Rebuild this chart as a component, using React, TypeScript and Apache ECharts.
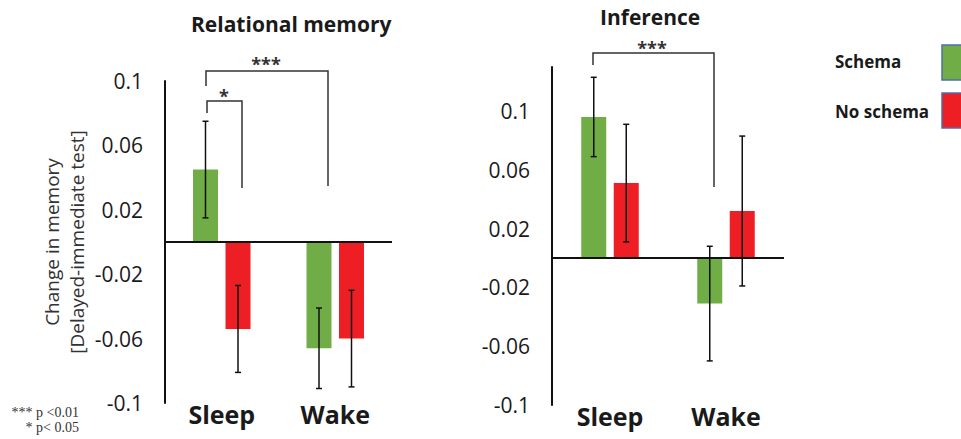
import React, { useEffect, useRef } from 'react';
import * as echarts from 'echarts';

const categories = ['Sleep', 'Wake'];
const yTickValues = [-0.1, -0.06, -0.02, 0.02, 0.06, 0.1];

const relationalSchema = [0.045, -0.066];
const relationalSchemaErr = [0.030, 0.025];
const relationalNoSchema = [-0.054, -0.060];
const relationalNoSchemaErr = [0.027, 0.030];

const inferenceSchema = [0.096, -0.031];
const inferenceSchemaErr = [0.027, 0.039];
const inferenceNoSchema = [0.051, 0.032];
const inferenceNoSchemaErr = [0.040, 0.051];

const legendNames = ['Schema', 'No schema'];

const GREEN = '#70AD47';
const RED = '#ED1F24';
const FONT = 'Open Sans';
const BAR_W = 25;
const BAR_GAP = 7.5;
const OFFSET = (BAR_W + BAR_GAP) / 2;

function errorSeries(values: number[], errs: number[], offset: number, idx: number) {
  return {
    type: 'custom',
    xAxisIndex: idx,
    yAxisIndex: idx,
    silent: true,
    clip: false,
    z: 5,
    data: values.map((v, i) => [i, v - errs[i], v + errs[i]]),
    renderItem: (params: any, api: any) => {
      const lo = api.coord([api.value(0), api.value(1)]);
      const hi = api.coord([api.value(0), api.value(2)]);
      const x = lo[0] + offset;
      const cap = 3;
      const style = { stroke: '#111', lineWidth: 1.5 };
      return {
        type: 'group',
        children: [
          { type: 'line', shape: { x1: x, y1: hi[1], x2: x, y2: lo[1] }, style },
          { type: 'line', shape: { x1: x - cap, y1: hi[1], x2: x + cap, y2: hi[1] }, style },
          { type: 'line', shape: { x1: x - cap, y1: lo[1], x2: x + cap, y2: lo[1] }, style },
        ],
      };
    },
  };
}

function barSeries(name: string, values: number[], color: string, idx: number, zeroLine: boolean) {
  const s: any = {
    name,
    type: 'bar',
    xAxisIndex: idx,
    yAxisIndex: idx,
    data: values,
    barWidth: BAR_W,
    barGap: '30%',
    itemStyle: { color },
    silent: true,
  };
  if (zeroLine) {
    s.markLine = {
      silent: true,
      symbol: ['none', 'none'],
      label: { show: false },
      lineStyle: { color: '#111', width: 2, type: 'solid' },
      data: [{ yAxis: 0 }],
    };
  }
  return s;
}

function yAxis(idx: number, max: number, withName: boolean) {
  const a: any = {
    gridIndex: idx,
    type: 'value',
    min: -0.1,
    max,
    axisLine: { show: true, onZero: false, lineStyle: { color: '#111', width: 2 } },
    axisTick: { show: false },
    splitLine: { show: false },
    axisLabel: {
      customValues: yTickValues,
      fontSize: 21,
      color: '#1a1a1a',
      margin: 22,
      fontFamily: FONT,
    },
  };
  if (withName) {
    a.name = 'Change in memory\n[Delayed-immediate test]';
    a.nameLocation = 'middle';
    a.nameGap = 76;
    a.nameTextStyle = { fontSize: 19, lineHeight: 25, color: '#333', fontFamily: FONT };
  }
  return a;
}

function xAxis(idx: number) {
  return {
    gridIndex: idx,
    type: 'category',
    data: categories,
    axisLine: { show: false, onZero: false },
    axisTick: { show: false },
    splitLine: { show: false },
    axisLabel: { fontSize: 25, fontWeight: 'bold', color: '#1a1a1a', margin: -2, fontFamily: FONT },
  };
}

const bracketStyle = { stroke: '#333', lineWidth: 1.5, fill: 'none' };
const starStyle = { fontSize: 18, fontWeight: 'bold', fill: '#333', fontFamily: FONT, align: 'center', verticalAlign: 'middle' };

export default function App() {
  const ref = useRef<HTMLDivElement>(null);
  useEffect(() => {
    if (!ref.current) return;
    const chart = echarts.init(ref.current, undefined, { renderer: 'svg' });
    chart.setOption({
      animation: false,
      backgroundColor: '#fff',
      textStyle: { fontFamily: FONT },
      title: [
        { text: 'Relational memory', left: 191, top: 13, padding: 0, textStyle: { fontSize: 21, fontWeight: 'bold', color: '#1a1a1a', fontFamily: FONT } },
        { text: 'Inference', left: 600, top: 6, padding: 0, textStyle: { fontSize: 21, fontWeight: 'bold', color: '#1a1a1a', fontFamily: FONT } },
      ],
      grid: [
        { left: 165, top: 81, width: 227, height: 322 },
        { left: 552, top: 67, width: 232, height: 338 },
      ],
      xAxis: [xAxis(0), xAxis(1)],
      yAxis: [yAxis(0, 0.1, true), yAxis(1, 0.13, false)],
      series: [
        barSeries(legendNames[0], relationalSchema, GREEN, 0, true),
        barSeries(legendNames[1], relationalNoSchema, RED, 0, false),
        barSeries(legendNames[0], inferenceSchema, GREEN, 1, true),
        barSeries(legendNames[1], inferenceNoSchema, RED, 1, false),
        errorSeries(relationalSchema, relationalSchemaErr, -OFFSET, 0),
        errorSeries(relationalNoSchema, relationalNoSchemaErr, OFFSET, 0),
        errorSeries(inferenceSchema, inferenceSchemaErr, -OFFSET, 1),
        errorSeries(inferenceNoSchema, inferenceNoSchemaErr, OFFSET, 1),
      ],
      graphic: [
        // significance brackets
        { type: 'polyline', shape: { points: [[206, 86], [206, 71], [328, 71], [328, 186]] }, style: bracketStyle },
        { type: 'text', x: 266, y: 64, style: { ...starStyle, text: '***' } },
        { type: 'polyline', shape: { points: [[207, 113], [207, 101], [242, 101], [242, 188]] }, style: bracketStyle },
        { type: 'text', x: 224, y: 96, style: { ...starStyle, text: '*' } },
        { type: 'polyline', shape: { points: [[593, 65], [593, 53], [714, 53], [714, 187]] }, style: bracketStyle },
        { type: 'text', x: 652, y: 48, style: { ...starStyle, text: '***' } },
        // legend
        { type: 'text', x: 835, y: 61, style: { text: legendNames[0], fontSize: 17, fontWeight: 'bold', fill: '#1a1a1a', fontFamily: FONT, verticalAlign: 'middle' } },
        { type: 'rect', shape: { x: 942, y: 45, width: 30, height: 35 }, style: { fill: GREEN, stroke: '#4f6ea8', lineWidth: 1.5 } },
        { type: 'text', x: 835, y: 111, style: { text: legendNames[1], fontSize: 17, fontWeight: 'bold', fill: '#1a1a1a', fontFamily: FONT, verticalAlign: 'middle' } },
        { type: 'rect', shape: { x: 942, y: 93, width: 30, height: 35 }, style: { fill: RED, stroke: '#4f6ea8', lineWidth: 1.5 } },
        // footnote
        { type: 'text', x: 79, y: 412, style: { text: '*** p <0.01', fontSize: 14, fill: '#333', fontFamily: 'Liberation Serif', align: 'right', verticalAlign: 'middle' } },
        { type: 'text', x: 79, y: 427, style: { text: '* p< 0.05', fontSize: 14, fill: '#333', fontFamily: 'Liberation Serif', align: 'right', verticalAlign: 'middle' } },
      ],
    });
    return () => chart.dispose();
  }, []);
  return <div ref={ref} style={{ position: 'fixed', left: 0, top: 0, width: 961, height: 439 }} />;
}
